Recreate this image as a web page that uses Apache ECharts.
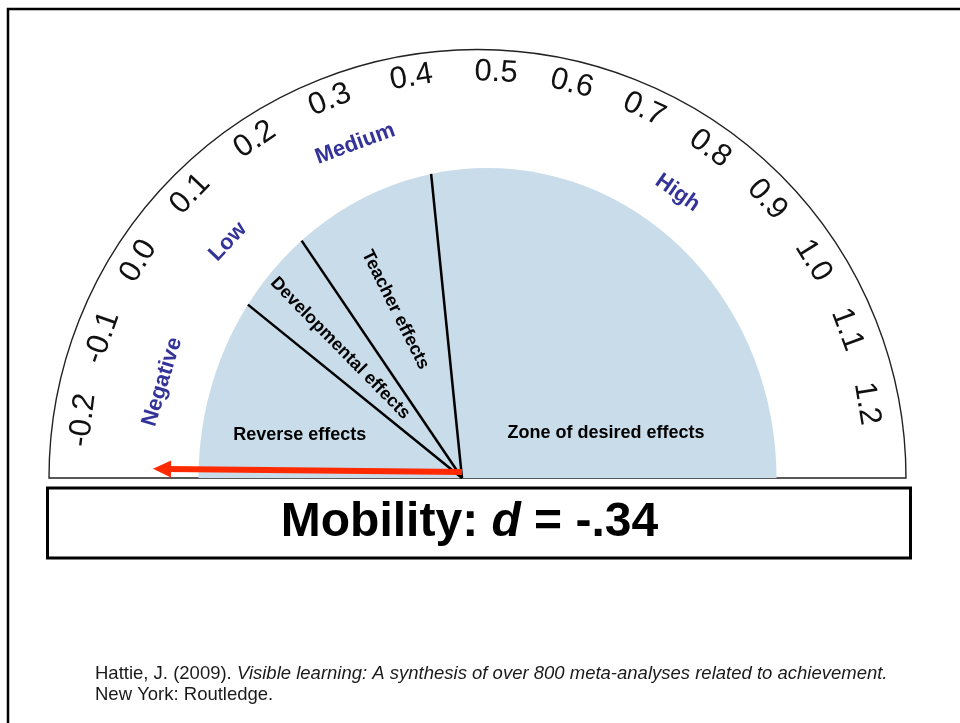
<!DOCTYPE html>
<html>
<head>
<meta charset="utf-8">
<script src="https://cdn.jsdelivr.net/npm/echarts@6/dist/echarts.min.js"></script>
<style>
  html, body { margin: 0; padding: 0; background: #fff; }
  #main { width: 960px; height: 723px; }
</style>
</head>
<body>
<div id="main"></div>
<script>
// scale printed round the barometer (hand drawn: the left half is spaced a bit wider)
const tickMin = -0.2;
const tickMid = 0.5;
const tickMax = 1.2;
const tickStep = 0.1;

// zone names on the outer ring and the d value each one sits over
const zoneNames = ['Negative', 'Low', 'Medium', 'High'];
const zoneCenters = [-0.14, 0.09, 0.32, 0.8];

// inner fan: kinds of effect and the d values between them
const effectNames = ['Reverse effects', 'Developmental effects', 'Teacher effects', 'Zone of desired effects'];
const effectBounds = [0, 0.15, 0.4];

// the influence shown
const influence = 'Mobility';
const influenceD = -0.34;

const citation = 'Hattie, J. (2009). {i|Visible learning: A synthesis of over 800 meta-analyses related to achievement.}\nNew York: Routledge.';

// ---- layout ----
const FONT = '"Liberation Sans", Arial, Helvetica, sans-serif';
// tick label ring
const TICKS = { cx: 476, cy: 468, r: 396, aMin: 173.05, aMid: 87.1, aMax: 9.37 };
// outer ring for zone names: angle (deg) at d = 0 and degrees per unit of d
const OUT = { cx: 478, cy: 478, deg0: 146.97, degPerUnit: 114.95 };
const zoneRadius = [330, 344, 356, 348];
// inner fan, drawn from the pivot
const IN = { cx: 462, cy: 478, deg0: 141, degPerUnit: 113 };
const BLUE = { dx: 25.5, rx: 289, ry: 310 };
const ARROW_LEN = 309;

function angleAxisFor(c, polarIndex) {
  const min = -0.6;
  return {
    polarIndex: polarIndex, type: 'value', show: false,
    min: min, max: min + 360 / c.degPerUnit,
    startAngle: c.deg0 - c.degPerUnit * min, clockwise: true
  };
}

// distance along unit vector u from the pivot to the edge of the blue half-ellipse
function hitBlue(u) {
  const a = (u[0] * u[0]) / (BLUE.rx * BLUE.rx) + (u[1] * u[1]) / (BLUE.ry * BLUE.ry);
  const b = 2 * (-BLUE.dx) * u[0] / (BLUE.rx * BLUE.rx);
  const c = (BLUE.dx * BLUE.dx) / (BLUE.rx * BLUE.rx) - 1;
  return (-b + Math.sqrt(b * b - 4 * a * c)) / (2 * a);
}

function unitTo(cs, p) {
  const dx = p[0] - cs.cx, dy = p[1] - cs.cy;
  const l = Math.sqrt(dx * dx + dy * dy);
  return [dx / l, dy / l];
}

// where the inner labels sit: [radius px, d value, rotation deg or null]
const innerLabelPos = [
  [168, -0.213, null],
  [178, 0.069, -45.5],
  [181, 0.26, -63.5],
  [151, 1.094, null]
];

const fmtD = v => (v < 0 ? '-' : '') + Math.abs(v).toFixed(2).replace(/^0/, '');

function tickGauge(min, max, a0, a1, skip) {
  return {
    type: 'gauge',
    center: [TICKS.cx, TICKS.cy], radius: TICKS.r,
    startAngle: a0, endAngle: a1,
    min: min, max: max, splitNumber: Math.round((max - min) / tickStep),
    axisLine: { show: false },
    splitLine: { show: false, length: 0, distance: 0 },
    axisTick: { show: false },
    axisLabel: {
      distance: 0, rotate: 'tangential', color: '#111',
      fontSize: 31, fontFamily: FONT,
      formatter: v => (skip != null && Math.abs(v - skip) < 1e-9) ? '' : v.toFixed(1)
    },
    pointer: { show: false }, anchor: { show: false },
    progress: { show: false },
    title: { show: false }, detail: { show: false },
    data: []
  };
}

const chart = echarts.init(document.getElementById('main'));

const option = {
  backgroundColor: '#fff',
  animation: false,
  polar: [
    { center: [OUT.cx, OUT.cy], radius: 430 },
    { center: [IN.cx, IN.cy], radius: 320 }
  ],
  angleAxis: [angleAxisFor(OUT, 0), angleAxisFor(IN, 1)],
  radiusAxis: [
    { polarIndex: 0, type: 'value', min: 0, max: 430, show: false },
    { polarIndex: 1, type: 'value', min: 0, max: 320, show: false }
  ],
  graphic: [
    {
      type: 'rect', silent: true,
      shape: { x: 8, y: 9, width: 1000, height: 800 },
      style: { fill: 'none', stroke: '#000', lineWidth: 2.5 }
    },
    {
      type: 'rect', silent: true,
      shape: { x: 47.5, y: 488, width: 863, height: 70 },
      style: { fill: '#fff', stroke: '#000', lineWidth: 3 }
    },
    {
      type: 'text', silent: true, x: 469.5, y: 523,
      style: {
        text: influence + ': {i|d} = ' + fmtD(influenceD),
        font: 'bold 48px ' + FONT, fill: '#000',
        align: 'center', verticalAlign: 'middle',
        rich: { i: { font: 'italic bold 48px ' + FONT, fill: '#000' } }
      }
    },
    {
      type: 'text', silent: true, x: 95, y: 663,
      style: {
        text: citation,
        font: '18.5px ' + FONT, fill: '#1a1a1a', lineHeight: 21,
        align: 'left', verticalAlign: 'top',
        rich: { i: { font: 'italic 18.5px ' + FONT, fill: '#1a1a1a', lineHeight: 21 } }
      }
    }
  ],
  series: [
    // outer arc and base line
    {
      type: 'custom', coordinateSystem: 'polar', polarIndex: 0, silent: true,
      data: [[0, 0]],
      renderItem: function (params) {
        const cs = params.coordSys;
        return {
          type: 'sector',
          shape: { cx: cs.cx - 0.5, cy: cs.cy, r: 428.5, r0: 0, startAngle: Math.PI, endAngle: 2 * Math.PI, clockwise: true },
          style: { fill: 'none', stroke: '#222', lineWidth: 1.4 }
        };
      }
    },
    // tick labels, left and right half of the scale
    tickGauge(tickMin, tickMid, TICKS.aMin, TICKS.aMid, null),
    tickGauge(tickMid, tickMax, TICKS.aMid, TICKS.aMax, tickMid),
    // zone names
    {
      type: 'custom', coordinateSystem: 'polar', polarIndex: 0, silent: true,
      data: zoneCenters.map(v => [0, v]),
      renderItem: function (params, api) {
        const cs = params.coordSys;
        const p = api.coord([zoneRadius[params.dataIndex], api.value(1)]);
        const a = Math.atan2(cs.cy - p[1], p[0] - cs.cx);
        return {
          type: 'text', x: p[0], y: p[1], rotation: a - Math.PI / 2,
          style: {
            text: zoneNames[params.dataIndex], fill: '#333399',
            font: 'bold 22px ' + FONT, align: 'center', verticalAlign: 'middle'
          }
        };
      }
    },
    // blue half-ellipse
    {
      type: 'custom', coordinateSystem: 'polar', polarIndex: 1, silent: true,
      data: [[0, 0]],
      renderItem: function (params) {
        const cs = params.coordSys;
        const ex = cs.cx + BLUE.dx;
        return {
          type: 'sector',
          shape: { cx: ex, cy: cs.cy, r: BLUE.ry, r0: 0, startAngle: Math.PI, endAngle: 2 * Math.PI, clockwise: true },
          scaleX: BLUE.rx / BLUE.ry, scaleY: 1, originX: ex, originY: cs.cy,
          style: { fill: '#c9dcea' }
        };
      }
    },
    // boundary lines
    {
      type: 'custom', coordinateSystem: 'polar', polarIndex: 1, silent: true,
      data: effectBounds.map(v => [0, v]),
      renderItem: function (params, api) {
        const cs = params.coordSys;
        const u = unitTo(cs, api.coord([100, api.value(1)]));
        const t = hitBlue(u);
        return {
          type: 'line',
          shape: { x1: cs.cx, y1: cs.cy, x2: cs.cx + u[0] * t, y2: cs.cy + u[1] * t },
          style: { stroke: '#000', lineWidth: 2.5 }
        };
      }
    },
    // inner labels
    {
      type: 'custom', coordinateSystem: 'polar', polarIndex: 1, silent: true,
      data: effectNames.map((n, i) => [0, i]),
      renderItem: function (params, api) {
        const pos = innerLabelPos[params.dataIndex];
        const p = api.coord([pos[0], pos[1]]);
        return {
          type: 'text', x: p[0], y: p[1],
          rotation: pos[2] == null ? 0 : pos[2] * Math.PI / 180,
          style: {
            text: effectNames[params.dataIndex], fill: '#000',
            font: 'bold 18px ' + FONT, align: 'center', verticalAlign: 'middle'
          }
        };
      }
    },
    // red arrow at the influence's d
    {
      type: 'custom', coordinateSystem: 'polar', polarIndex: 1, silent: true,
      data: [[0, influenceD]],
      renderItem: function (params, api) {
        const cs = params.coordSys;
        const u = unitTo(cs, api.coord([100, api.value(1)]));
        const n = [-u[1], u[0]];
        const tip = [cs.cx + u[0] * ARROW_LEN, cs.cy + u[1] * ARROW_LEN];
        const head = 18, half = 8.5;
        const back = [tip[0] - u[0] * head, tip[1] - u[1] * head];
        return {
          type: 'group', y: -6,
          children: [
            {
              type: 'line',
              shape: { x1: cs.cx, y1: cs.cy, x2: back[0] + u[0] * 2, y2: back[1] + u[1] * 2 },
              style: { stroke: '#ff2a00', lineWidth: 6 }
            },
            {
              type: 'polygon',
              shape: { points: [tip, [back[0] + n[0] * half, back[1] + n[1] * half], [back[0] - n[0] * half, back[1] - n[1] * half]] },
              style: { fill: '#ff2a00' }
            }
          ]
        };
      }
    }
  ]
};

chart.setOption(option);
</script>
</body>
</html>
